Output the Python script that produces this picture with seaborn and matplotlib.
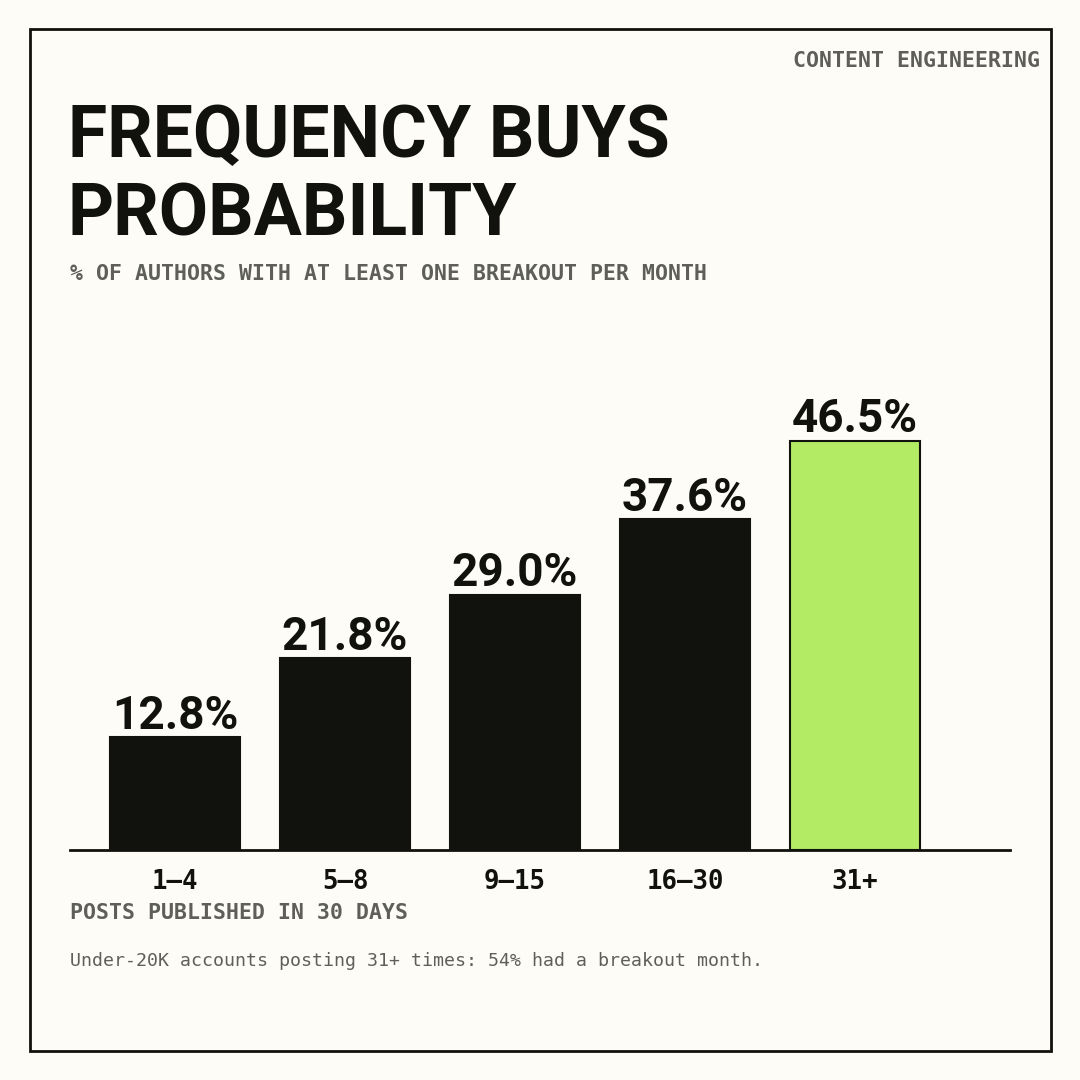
import matplotlib
matplotlib.use("Agg")
import matplotlib.pyplot as plt
import seaborn as sns
import pandas as pd
from matplotlib.patches import Rectangle

sns.set_theme(style="white")

# data
categories = ["1–4", "5–8", "9–15", "16–30", "31+"]
values = [12.8, 21.8, 29.0, 37.6, 46.5]
bar_colors = ["#11110e", "#11110e", "#11110e", "#11110e", "#b3eb64"]

BG = "#fdfcf7"
INK = "#11110e"
GREY = "#5f5f5a"
NARROW = ["Roboto", "DejaVu Sans"]
MONO = ["DejaVu Sans Mono"]

df = pd.DataFrame({"bucket": categories, "pct": values})

fig = plt.figure(figsize=(10.8, 10.8), dpi=100, facecolor=BG)
ax = fig.add_axes([70 / 1080, 230 / 1080, 940 / 1080, 440 / 1080])
ax.set_facecolor("none")

sns.barplot(data=df, x="bucket", y="pct", hue="bucket", palette=bar_colors,
            legend=False, width=0.77, edgecolor=INK, linewidth=1.5,
            saturation=1, ax=ax)

ax.set_xlim(-0.618, 4.912)
ax.set_ylim(0, 50)

# value labels
for i, v in enumerate(values):
    ax.annotate(f"{v:.1f}%", (i, v), textcoords="offset points", xytext=(0, 6),
                ha="center", va="baseline", fontsize=33, fontweight="bold",
                family=NARROW, color=INK)

for s in ["top", "right", "left"]:
    ax.spines[s].set_visible(False)
ax.spines["bottom"].set_color(INK)
ax.spines["bottom"].set_linewidth(2)
ax.set_yticks([])
ax.set_xlabel("")
ax.set_ylabel("")
ax.tick_params(axis="x", length=0, pad=14)
for lab in ax.get_xticklabels():
    lab.set_fontfamily(MONO)
    lab.set_fontweight("bold")
    lab.set_fontsize(18.5)
    lab.set_color(INK)

# frame around the card
fig.patches.append(Rectangle((30 / 1080, 29 / 1080), 1021 / 1080, 1022 / 1080,
                             transform=fig.transFigure, fill=False,
                             edgecolor=INK, linewidth=2))

fig.text(1040 / 1080, 1 - 61 / 1080, "CONTENT ENGINEERING", ha="right",
         va="center", family=MONO, fontweight="bold", fontsize=15.5, color=GREY)
fig.text(68 / 1080, 1 - 157 / 1080, "FREQUENCY BUYS", ha="left",
         va="baseline", family=NARROW, fontweight="bold", fontsize=51.5, color=INK)
fig.text(68 / 1080, 1 - 236 / 1080, "PROBABILITY", ha="left",
         va="baseline", family=NARROW, fontweight="bold", fontsize=51.5, color=INK)
fig.text(70 / 1080, 1 - 274 / 1080, "% OF AUTHORS WITH AT LEAST ONE BREAKOUT PER MONTH",
         ha="left", va="center", family=MONO, fontweight="bold", fontsize=15.5,
         color=GREY)
fig.text(70 / 1080, 1 - 913 / 1080, "POSTS PUBLISHED IN 30 DAYS", ha="left",
         va="center", family=MONO, fontweight="bold", fontsize=15.5, color=GREY)
fig.text(70 / 1080, 1 - 961 / 1080,
         "Under-20K accounts posting 31+ times: 54% had a breakout month.",
         ha="left", va="center", family=MONO, fontsize=13.15, color=GREY)

fig.savefig("out.png", dpi=100, facecolor=BG)
